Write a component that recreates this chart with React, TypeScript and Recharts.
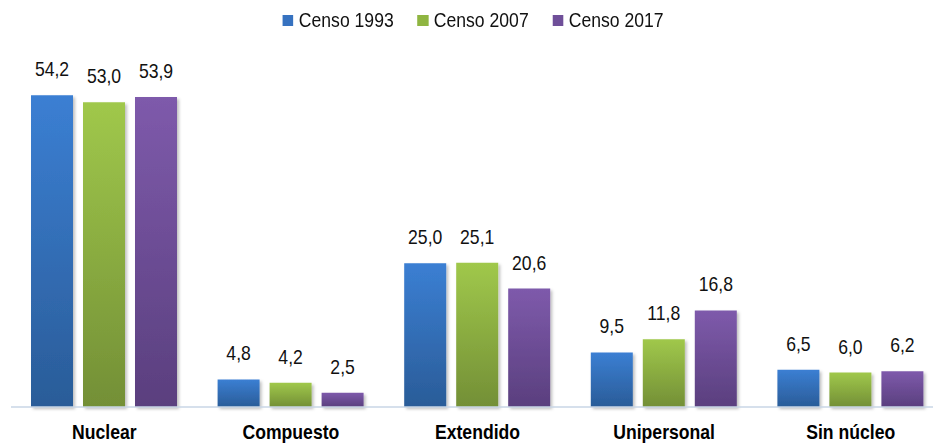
import { BarChart, Bar, XAxis, YAxis, Legend, LabelList } from 'recharts';

const categories = ['Nuclear', 'Compuesto', 'Extendido', 'Unipersonal', 'Sin núcleo'];
const censo1993 = [54.2, 4.8, 25.0, 9.5, 6.5];
const censo2007 = [53.0, 4.2, 25.1, 11.8, 6.0];
const censo2017 = [53.9, 2.5, 20.6, 16.8, 6.2];

const data = categories.map((name, i) => ({
  name,
  c1993: censo1993[i],
  c2007: censo2007[i],
  c2017: censo2017[i],
}));

// Arial Narrow look: Liberation Sans squeezed horizontally
const FONT = 'Arial, "Liberation Sans", sans-serif';
const SQUEEZE = 0.88;

const fmt = (v: unknown) => Number(v).toFixed(1).replace('.', ',');

const series = [
  { key: 'c1993', name: 'Censo 1993', grad: 'g1993', top: '#3b7fd3', bottom: '#2a5c98', icon: '#3672c0' },
  { key: 'c2007', name: 'Censo 2007', grad: 'g2007', top: '#a0c84b', bottom: '#738f36', icon: '#8fb541' },
  { key: 'c2017', name: 'Censo 2017', grad: 'g2017', top: '#7e5aab', bottom: '#5a3f7e', icon: '#6f4f99' },
];

function ValueLabel(props: any) {
  const { x, y, width, value } = props;
  const cx = Number(x) + Number(width) / 2;
  const cy = Number(y) - 19;
  return (
    <text
      transform={`translate(${cx},${cy}) scale(${SQUEEZE},1)`}
      textAnchor="middle"
      fontSize={20}
      fontFamily={FONT}
      fill="#111"
    >
      {fmt(value)}
    </text>
  );
}

function CategoryTick(props: any) {
  const { x, y, payload } = props;
  return (
    <g transform={`translate(${x},${y}) scale(${SQUEEZE},1)`}>
      <text x={0} y={0} dy={26} textAnchor="middle" fontSize={20} fontWeight={700} fontFamily={FONT} fill="#000">
        {payload.value}
      </text>
    </g>
  );
}

function LegendContent() {
  return (
    <div
      style={{
        height: 24,
        display: 'flex',
        justifyContent: 'center',
        alignItems: 'center',
        transform: `scaleX(${SQUEEZE})`,
        transformOrigin: 'center',
        fontFamily: FONT,
        fontSize: 20,
        color: '#111',
        paddingRight: 10,
      }}
    >
      {series.map((s, i) => (
        <div key={s.key} style={{ display: 'flex', alignItems: 'center', marginRight: i < series.length - 1 ? 27 : 0 }}>
          <span style={{ display: 'inline-block', width: 12.5, height: 11, background: s.icon, marginRight: 6 }} />
          <span>{s.name}</span>
        </div>
      ))}
    </div>
  );
}

export default function App() {
  return (
    <div style={{ position: 'absolute', left: 0, top: 0, width: 933, height: 444, overflow: 'hidden', background: '#fff' }}>
      <BarChart
        width={946}
        height={444}
        data={data}
        margin={{ top: 38, right: 2, left: 11, bottom: 7 }}
        barCategoryGap={20}
        barGap={10}
      >
        <defs>
          {series.map((s) => (
            <linearGradient key={s.grad} id={s.grad} x1="0" y1="0" x2="0" y2="1">
              <stop offset="0%" stopColor={s.top} />
              <stop offset="100%" stopColor={s.bottom} />
            </linearGradient>
          ))}
          <filter id="shadow" x="-20%" y="-20%" width="150%" height="150%">
            <feDropShadow dx="2" dy="2" stdDeviation="1.5" floodColor="#000" floodOpacity="0.25" />
          </filter>
        </defs>
        <XAxis
          dataKey="name"
          axisLine={{ stroke: '#c9d6e6', strokeWidth: 1.5 }}
          tickLine={false}
          tickMargin={0}
          interval={0}
          tick={<CategoryTick />}
        />
        <YAxis hide domain={[0, 60]} />
        <Legend verticalAlign="top" align="center" wrapperStyle={{ top: 8 }} content={<LegendContent />} />
        {series.map((s) => (
          <Bar
            key={s.key}
            dataKey={s.key}
            name={s.name}
            fill={`url(#${s.grad})`}
            barSize={42}
            filter="url(#shadow)"
            isAnimationActive={false}
          >
            <LabelList dataKey={s.key} content={<ValueLabel />} />
          </Bar>
        ))}
      </BarChart>
    </div>
  );
}
